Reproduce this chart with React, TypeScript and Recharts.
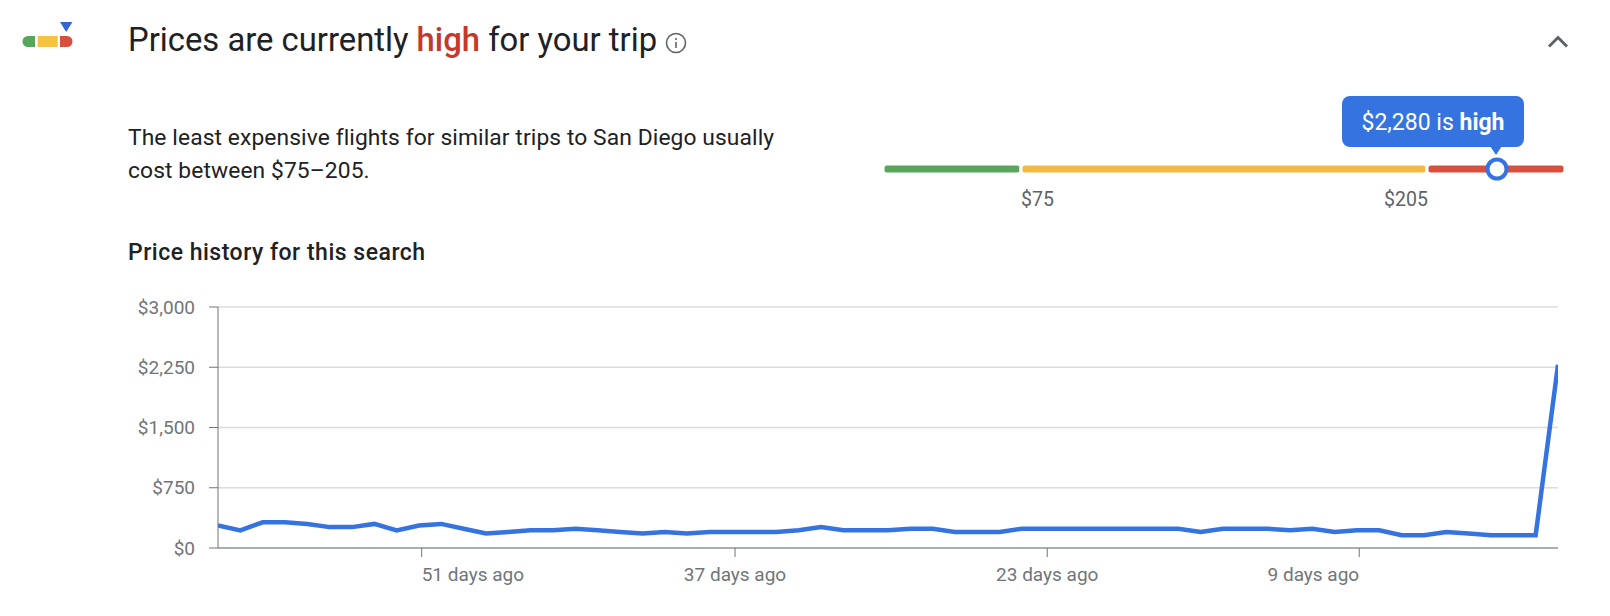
import React from "react";
import {
  BarChart,
  Bar,
  Cell,
  CartesianGrid,
  Line,
  LineChart,
  ReferenceDot,
  XAxis,
  YAxis,
} from "recharts";

const daysAgo = [
  60, 59, 58, 57, 56, 55, 54, 53, 52, 51, 50, 49, 48, 47, 46, 45, 44, 43, 42, 41,
  40, 39, 38, 37, 36, 35, 34, 33, 32, 31, 30, 29, 28, 27, 26, 25, 24, 23, 22, 21,
  20, 19, 18, 17, 16, 15, 14, 13, 12, 11, 10, 9, 8, 7, 6, 5, 4, 3, 2, 1, 0,
];
const prices = [
  280, 220, 320, 320, 300, 260, 260, 300, 220, 280, 300, 240, 180, 200, 220, 220, 240, 220, 200, 180,
  200, 180, 200, 200, 200, 200, 220, 260, 220, 220, 220, 240, 240, 200, 200, 200, 240, 240, 240, 240,
  240, 240, 240, 240, 200, 240, 240, 240, 220, 240, 200, 220, 220, 160, 160, 200, 180, 160, 160, 160, 2280,
];
const priceTicks = [0, 750, 1500, 2250, 3000];
// the original's ticks sit a little later than its daily points
const dayTicks = [50.88, 36.85, 22.87, 8.9];
const dayTickAnchors: Record<number, string> = { 51: "start", 37: "middle", 23: "middle", 9: "end" };

const gaugeNames = ["low", "typical", "high"];
const gaugeSpans = [138, 406, 138];
const gaugeColors = ["#58a55c", "#f2b943", "#d94f3d"];
const gaugeMarker = 614;

const BLUE = "#3574e0";
const FONT = "Roboto, sans-serif";

const chartData = daysAgo.map((day, i) => ({ day, price: prices[i] }));
const gaugeData = [
  Object.fromEntries([["row", "range"], ...gaugeNames.map((n, i) => [n, gaugeSpans[i]])]),
];

const formatPrice = (v: number) => "$" + v.toLocaleString("en-US");

const DayTick = ({ x, y, payload }: any) => {
  const day = Math.round(payload.value);
  return (
    <text
      x={x}
      y={y + 22}
      textAnchor={dayTickAnchors[day]}
      fill="#70757a"
      fontSize={19}
      fontFamily={FONT}
    >
      {day} days ago
    </text>
  );
};

const abs = (left: number, top: number): React.CSSProperties => ({
  position: "absolute",
  left,
  top,
  whiteSpace: "nowrap",
});

const Logo = () => (
  <svg style={abs(20, 20)} width={56} height={30}>
    <polygon points="40,2 52.4,2 46.2,12" fill="#3367d6" />
    <path d="M8,16 H15 V27 H8 A5.5,5.5 0 0 1 8,16 Z" fill="#58a55c" />
    <rect x={17.7} y={16} width={20} height={11} fill="#f5c242" />
    <path d="M40,16 H47 A5.5,5.5 0 0 1 47,27 H40 Z" fill="#d94f3d" />
  </svg>
);

const InfoIcon = () => (
  <svg style={abs(664, 31)} width={24} height={24} fill="none" stroke="#5f6368">
    <circle cx={12} cy={12} r={9.5} strokeWidth={1.6} />
    <line x1={12} y1={11} x2={12} y2={17} strokeWidth={1.6} />
    <line x1={12} y1={7} x2={12} y2={9} strokeWidth={1.6} />
  </svg>
);

const Chevron = () => (
  <svg style={abs(1540, 28)} width={36} height={28} fill="none" stroke="#5f6368">
    <polyline points="9,18.5 18,9.5 27,18.5" strokeWidth={3} />
  </svg>
);

const Gauge = () => (
  <BarChart
    style={abs(883, 150)}
    width={684}
    height={38}
    layout="vertical"
    data={gaugeData}
    margin={{ top: 14, right: 2, bottom: 14, left: 0 }}
    barCategoryGap={0}
  >
    <XAxis type="number" hide domain={[0, 682]} />
    <YAxis type="category" dataKey="row" hide />
    {gaugeNames.map((name, i) => (
      <Bar
        key={name}
        dataKey={name}
        stackId="range"
        fill={gaugeColors[i]}
        stroke="#fff"
        strokeWidth={3}
        radius={4}
        isAnimationActive={false}
      >
        <Cell fill={gaugeColors[i]} />
      </Bar>
    ))}
    <ReferenceDot
      x={gaugeMarker}
      y="range"
      r={9.5}
      fill="#fff"
      stroke={BLUE}
      strokeWidth={4}
    />
  </BarChart>
);

const Callout = () => (
  <>
    <div
      style={{
        ...abs(1342, 96),
        width: 182,
        height: 51,
        background: BLUE,
        borderRadius: 8,
        color: "#fff",
        fontFamily: FONT,
        fontSize: 23,
        lineHeight: "53px",
        textAlign: "center",
      }}
    >
      $2,280 is <b>high</b>
    </div>
    <svg style={abs(1488, 146)} width={16} height={10}>
      <polygon points="2,0 14,0 8,9" fill={BLUE} />
    </svg>
  </>
);

const textBase: React.CSSProperties = { fontFamily: FONT, lineHeight: 1 };

export default function App() {
  return (
    <div style={{ position: "absolute", left: 0, top: 0, width: 1610, height: 616, background: "#fff", overflow: "hidden" }}>
      <Logo />
      <div style={{ ...abs(128, 24), ...textBase, fontSize: 32.8, color: "#202124" }}>
        Prices are currently <span style={{ color: "#c5392c", fontWeight: 500 }}>high</span> for your trip
      </div>
      <InfoIcon />
      <Chevron />
      <div style={{ ...abs(128, 127), ...textBase, fontSize: 22.8, letterSpacing: 0.1, color: "#202124" }}>
        The least expensive flights for similar trips to San Diego usually
      </div>
      <div style={{ ...abs(128, 160), ...textBase, fontSize: 22.8, letterSpacing: 0.1, color: "#202124" }}>
        cost between $75–205.
      </div>
      <div style={{ ...abs(128, 241), ...textBase, fontSize: 23, letterSpacing: 0.5, fontWeight: 500, color: "#202124" }}>
        Price history for this search
      </div>
      <Gauge />
      <Callout />
      <div style={{ ...abs(1021, 190), ...textBase, fontSize: 19.5, color: "#5f6368" }}>$75</div>
      <div style={{ ...abs(1384, 190), ...textBase, fontSize: 19.5, color: "#5f6368" }}>$205</div>
      <LineChart
        style={abs(0, 290)}
        width={1610}
        height={320}
        data={chartData}
        margin={{ top: 17, right: 52, bottom: 0, left: 0 }}
      >
        <CartesianGrid horizontal vertical={false} stroke="#dadce0" strokeWidth={1.5} />
        <XAxis
          dataKey="day"
          type="number"
          domain={[0, 60]}
          reversed
          allowDataOverflow
          ticks={dayTicks}
          tick={<DayTick />}
          tickSize={9}
          stroke="#70757a"
          height={62}
        />
        <YAxis
          type="number"
          domain={[0, 3000]}
          ticks={priceTicks}
          tickFormatter={formatPrice}
          width={218}
          tickSize={9}
          tickMargin={14}
          stroke="#70757a"
          tick={{ fill: "#70757a", fontSize: 19, fontFamily: FONT }}
        />
        <Line
          dataKey="price"
          type="linear"
          stroke={BLUE}
          strokeWidth={4.5}
          dot={false}
          isAnimationActive={false}
        />
      </LineChart>
    </div>
  );
}
